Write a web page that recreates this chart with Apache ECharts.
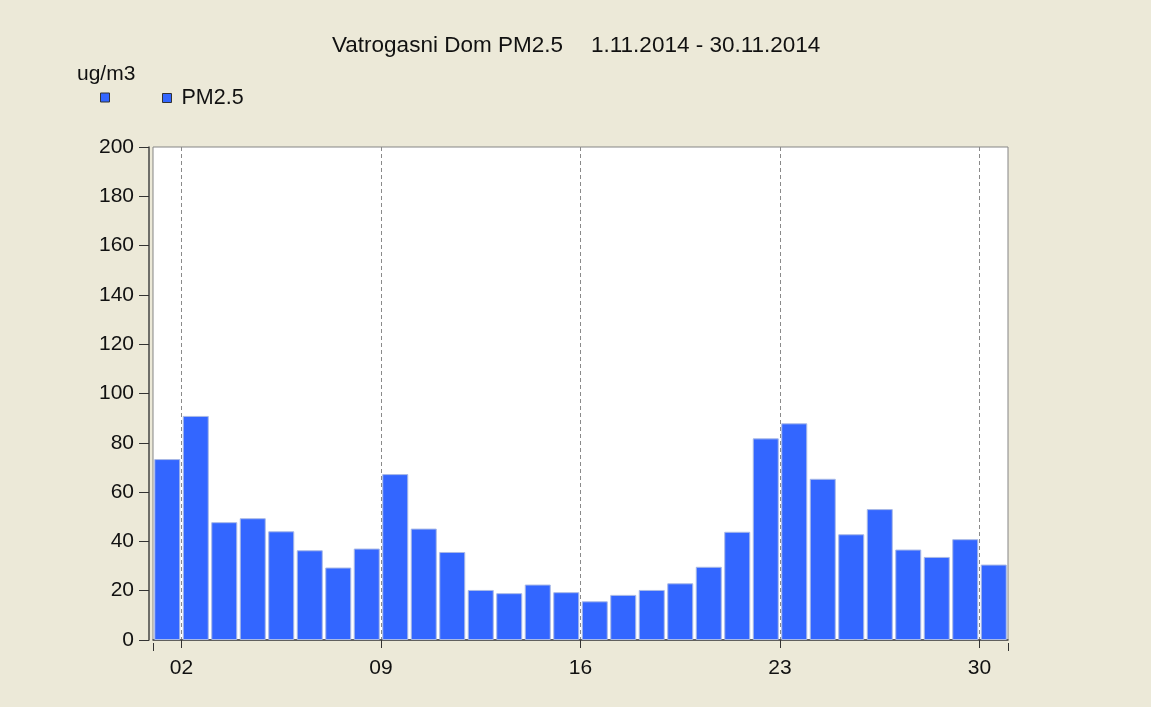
<!DOCTYPE html>
<html>
<head>
<meta charset="utf-8">
<title>Vatrogasni Dom PM2.5</title>
<script src="https://cdn.jsdelivr.net/npm/echarts@6/dist/echarts.min.js"></script>
<style>
  html, body { margin: 0; padding: 0; background: #ece9d8; }
  #chart { width: 1151px; height: 707px; }
</style>
</head>
<body>
<div id="chart"></div>
<script>
// days of November 2014
var days = [1, 2, 3, 4, 5, 6, 7, 8, 9, 10, 11, 12, 13, 14, 15,
  16, 17, 18, 19, 20, 21, 22, 23, 24, 25, 26, 27, 28, 29, 30]
// daily PM2.5 (ug/m3)
var pm25 = [73.4, 90.9, 47.8, 49.4, 44.1, 36.4, 29.4, 37.1, 67.3, 45.2,
  35.7, 20.3, 19.0, 22.5, 19.4, 15.7, 18.3, 20.3, 23.0, 29.7,
  43.9, 81.8, 87.9, 65.4, 42.9, 53.1, 36.7, 33.7, 40.9, 30.6]
var labelDays = [2, 9, 16, 23, 30]
var yTicks = [0, 20, 40, 60, 80, 100, 120, 140, 160, 180, 200]

var font = "'Liberation Sans', Arial, sans-serif"
var fs = 21
var titleFs = 22.5

function pad(d) {
  return d < 10 ? '0' + d : String(d)
}

var chart = echarts.init(document.getElementById('chart'))
chart.setOption({
  backgroundColor: '#ece9d8',
  animation: false,
  title: [
    {
      text: 'Vatrogasni Dom PM2.5',
      left: 332,
      top: 34,
      padding: 0,
      textStyle: { fontFamily: font, fontSize: titleFs, fontWeight: 'normal', color: '#111' }
    },
    {
      text: '1.11.2014 - 30.11.2014',
      left: 591,
      top: 34,
      padding: 0,
      textStyle: { fontFamily: font, fontSize: titleFs, fontWeight: 'normal', color: '#111' }
    },
    {
      text: 'ug/m3',
      left: 77,
      top: 64,
      padding: 0,
      textStyle: { fontFamily: font, fontSize: fs, fontWeight: 'normal', color: '#111' }
    }
  ],
  legend: [
    {
      data: [' '],
      left: 100,
      top: 87,
      padding: 0,
      icon: 'rect',
      itemWidth: 9,
      itemHeight: 9,
      itemStyle: { borderColor: '#333', borderWidth: 1 },
      textStyle: { fontFamily: font, fontSize: fs, color: '#111' },
      selectedMode: false
    },
    {
      data: ['PM2.5'],
      left: 162,
      top: 87,
      padding: 0,
      icon: 'rect',
      itemWidth: 9,
      itemHeight: 9,
      itemStyle: { borderColor: '#333', borderWidth: 1 },
      textStyle: { fontFamily: font, fontSize: 21.5, color: '#111', padding: [0, 0, 0, 5] },
      selectedMode: false
    }
  ],
  grid: {
    left: 153,
    right: 143,
    top: 147,
    bottom: 67,
    show: true,
    backgroundColor: '#ffffff',
    borderColor: '#858585',
    borderWidth: 1
  },
  xAxis: [
    {
      type: 'value',
      position: 'bottom',
      min: days[0],
      max: days[days.length - 1] + 1,
      offset: 3,
      axisLine: { show: true, lineStyle: { color: '#444', width: 1.5 } },
      axisTick: { show: true, length: 8, customValues: labelDays, lineStyle: { color: '#333' } },
      axisLabel: {
        customValues: labelDays,
        formatter: function (v) { return pad(v) },
        margin: 15,
        fontFamily: font,
        fontSize: fs,
        color: '#111'
      },
      splitLine: { show: true, lineStyle: { color: '#8a8a8a', type: [4, 3], width: 1 } }
    },
    {
      // end ticks only
      type: 'value',
      position: 'bottom',
      min: days[0],
      max: days[days.length - 1] + 1,
      offset: 3,
      axisLine: { show: false },
      axisTick: { show: true, length: 8, customValues: [days[0], days[days.length - 1] + 1], lineStyle: { color: '#333' } },
      axisLabel: { show: false },
      splitLine: { show: false }
    }
  ],
  yAxis: {
    type: 'value',
    min: yTicks[0],
    max: yTicks[yTicks.length - 1],
    interval: 20,
    offset: 4,
    axisLine: { show: true, lineStyle: { color: '#444', width: 1.5 } },
    axisTick: { show: true, length: 10, lineStyle: { color: '#333' } },
    axisLabel: { margin: 15, fontFamily: font, fontSize: fs, color: '#111' },
    splitLine: { show: false }
  },
  series: [
    {
      name: ' ',
      type: 'line',
      data: [],
      itemStyle: { color: '#3366ff' }
    },
    {
      name: 'PM2.5',
      type: 'bar',
      xAxisIndex: 0,
      barWidth: 26,
      data: days.map(function (d, i) { return [d + 0.5, pm25[i]] }),
      itemStyle: { color: '#3366ff', borderColor: '#a9b9e6', borderWidth: 1 }
    }
  ]
})
</script>
</body>
</html>
